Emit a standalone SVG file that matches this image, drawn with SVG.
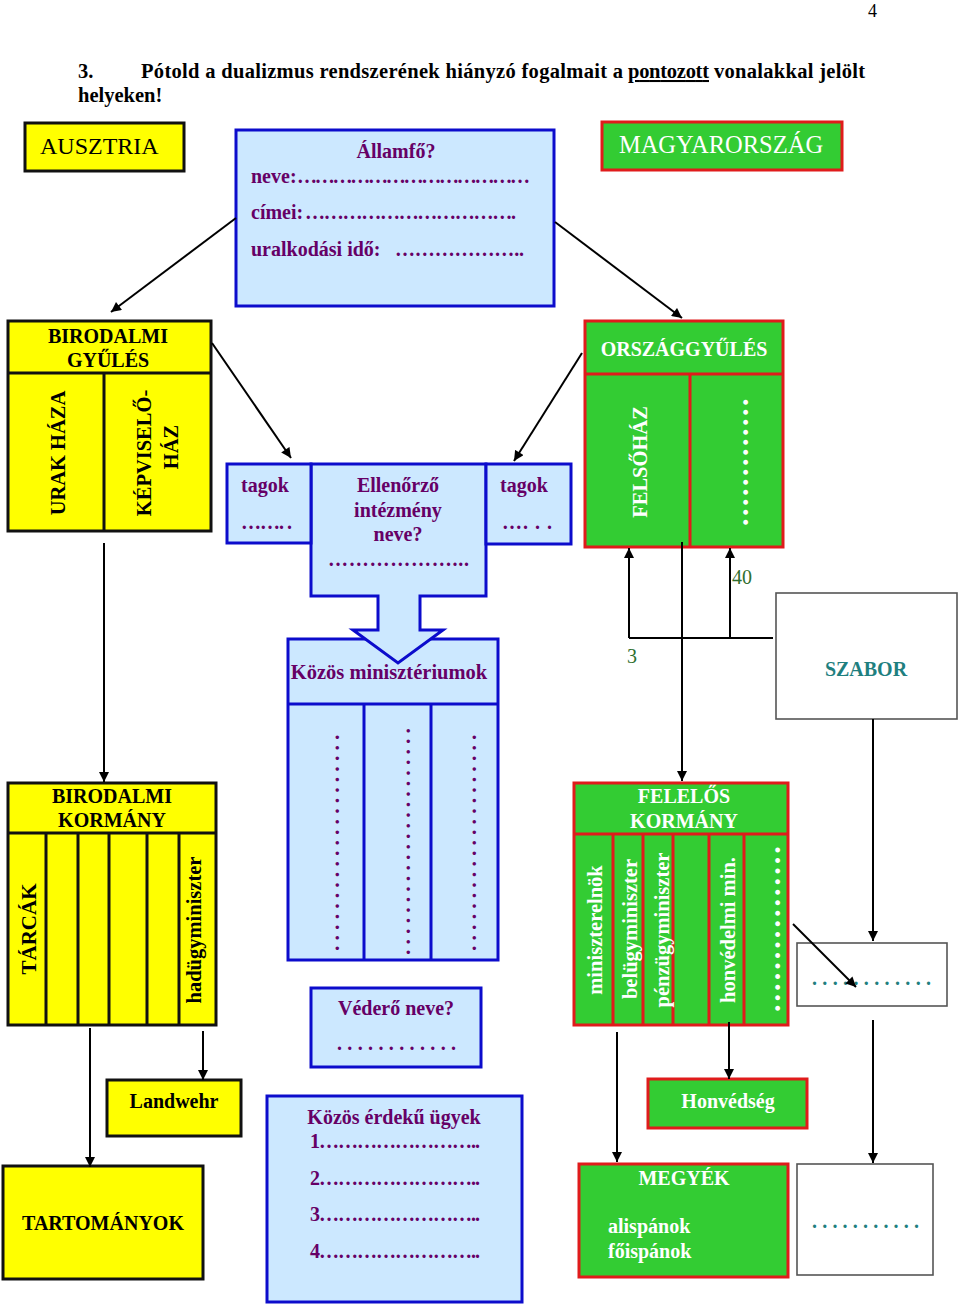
<svg xmlns="http://www.w3.org/2000/svg" width="960" height="1306" viewBox="0 0 960 1306">
<style>
.t{font-family:"Liberation Serif","Times New Roman",serif}
.b{font-weight:bold}
.p{fill:#660066}
.w{fill:#ffffff}
.k{fill:#000000}
.yel{fill:#ffff00;stroke:#111111;stroke-width:3}
.grn{fill:#33cc33;stroke:#e01b1b;stroke-width:3}
.blu{fill:#cce8ff;stroke:#0c0ccc;stroke-width:3}
.wht{fill:#ffffff;stroke:#555555;stroke-width:1.6}
.ly{stroke:#111111;stroke-width:3;fill:none}
.lg{stroke:#e01b1b;stroke-width:3;fill:none}
.lb{stroke:#0c0ccc;stroke-width:3;fill:none}
.c{stroke:#000000;stroke-width:2;fill:none}
</style>
<defs>
<marker id="ah" viewBox="0 0 10 10" refX="10" refY="5" markerWidth="11" markerHeight="10" markerUnits="userSpaceOnUse" orient="auto">
<path d="M0,0 L10,5 L0,10 z" fill="#000000"/>
</marker>
</defs>
<rect width="960" height="1306" fill="#ffffff"/>

<g id="header">
<text class="t" x="868" y="17" font-size="18">4</text>
<text class="t b" x="78" y="78" font-size="20.5">3.</text>
<text class="t b" x="141" y="78" font-size="20.5" textLength="482" lengthAdjust="spacing">Pótold a dualizmus rendszerének hiányzó fogalmait a</text>
<text class="t b" x="628" y="78" font-size="20.5" text-decoration="underline" textLength="81" lengthAdjust="spacing">pontozott</text>
<text class="t b" x="714" y="78" font-size="20.5" textLength="151" lengthAdjust="spacing">vonalakkal jelölt</text>
<text class="t b" x="78" y="102" font-size="20.5">helyeken!</text>
</g>

<g id="ausztria">
<rect class="yel" x="25" y="123" width="159" height="48"/>
<text class="t k" x="40" y="154" font-size="24">AUSZTRIA</text>
</g>

<g id="allamfo">
<rect class="blu" x="236" y="130" width="318" height="176"/>
<text class="t b p" x="396" y="158" font-size="20" text-anchor="middle">Államfő?</text>
<text class="t b p" x="251" y="183" font-size="20">neve:</text>
<text class="t b p" x="297" y="183" font-size="20" textLength="233" lengthAdjust="spacing">…………………………………</text>
<text class="t b p" x="251" y="219" font-size="20">címei:</text>
<text class="t b p" x="305" y="219" font-size="20" textLength="211" lengthAdjust="spacing">…………………………….</text>
<text class="t b p" x="251" y="256" font-size="20">uralkodási idő:</text>
<text class="t b p" x="395" y="256" font-size="20" textLength="129" lengthAdjust="spacing">………………..</text>
</g>

<g id="magyarorszag">
<rect class="grn" x="602" y="122" width="240" height="48"/>
<text class="t w" x="721" y="153" font-size="24.5" text-anchor="middle">MAGYARORSZÁG</text>
</g>

<g id="birodalmi-gyules">
<rect class="yel" x="8" y="321" width="203" height="210"/>
<line class="ly" x1="8" y1="373" x2="211" y2="373"/>
<line class="ly" x1="104" y1="373" x2="104" y2="531"/>
<text class="t b k" x="108" y="343" font-size="20" text-anchor="middle">BIRODALMI</text>
<text class="t b k" x="108" y="367" font-size="20" text-anchor="middle">GYŰLÉS</text>
<text class="t b k" transform="translate(65,453) rotate(-90)" font-size="20.5" text-anchor="middle">URAK HÁZA</text>
<text class="t b k" transform="translate(151,453) rotate(-90)" font-size="20.5" text-anchor="middle">KÉPVISELŐ-</text>
<text class="t b k" transform="translate(178,447) rotate(-90)" font-size="20.5" text-anchor="middle">HÁZ</text>
</g>

<g id="orszaggyules">
<rect class="grn" x="585" y="321" width="198" height="226"/>
<line class="lg" x1="585" y1="374" x2="783" y2="374"/>
<line class="lg" x1="690" y1="374" x2="690" y2="547"/>
<text class="t b w" x="684" y="356" font-size="20" text-anchor="middle">ORSZÁGGYŰLÉS</text>
<text class="t b w" transform="translate(647,462) rotate(-90)" font-size="20.5" text-anchor="middle">FELSŐHÁZ</text>
<text class="t b w" transform="translate(748,526) rotate(-90)" font-size="30" letter-spacing="2.5">.............</text>
</g>

<g id="kozos-miniszteriumok">
<rect class="blu" x="288" y="639" width="210" height="321"/>
<line class="lb" x1="288" y1="704" x2="498" y2="704"/>
<line class="lb" x1="364" y1="704" x2="364" y2="960"/>
<line class="lb" x1="431" y1="704" x2="431" y2="960"/>
<text class="t b p" x="389" y="679" font-size="20.5" text-anchor="middle">Közös minisztériumok</text>
<text class="t b p" transform="translate(339,951) rotate(-90)" font-size="22" letter-spacing="5.05">.....................</text>
<text class="t b p" transform="translate(410,955) rotate(-90)" font-size="22" letter-spacing="5.05">......................</text>
<text class="t b p" transform="translate(476,951) rotate(-90)" font-size="22" letter-spacing="5.05">.....................</text>
</g>

<g id="ellenorzo">
<polygon class="blu" points="311,464 486,464 486,596 420,596 420,630 443,630 398,663 353,630 378,630 378,596 311,596"/>
<text class="t b p" x="398" y="492" font-size="20" text-anchor="middle">Ellenőrző</text>
<text class="t b p" x="398" y="517" font-size="20" text-anchor="middle">intézmény</text>
<text class="t b p" x="398" y="541" font-size="20" text-anchor="middle">neve?</text>
<text class="t b p" x="328" y="566" font-size="20" textLength="141" lengthAdjust="spacing">………………...</text>
</g>

<g id="tagok-bal">
<rect class="blu" x="227" y="464" width="84" height="79"/>
<text class="t b p" x="241" y="492" font-size="20">tagok</text>
<text class="t b p" x="241" y="529" font-size="20" textLength="51" lengthAdjust="spacing">……. .</text>
</g>

<g id="tagok-jobb">
<rect class="blu" x="486" y="464" width="85" height="80"/>
<text class="t b p" x="500" y="492" font-size="20">tagok</text>
<text class="t b p" x="502" y="529" font-size="20" textLength="50" lengthAdjust="spacing">…. . .</text>
</g>

<g id="szabor">
<rect class="wht" x="776" y="593" width="181" height="126"/>
<text class="t b" x="866" y="676" font-size="20" fill="#1f7f7f" text-anchor="middle">SZABOR</text>
<text class="t" x="627" y="663" font-size="20" fill="#2f6f2f">3</text>
<text class="t" x="732" y="584" font-size="20" fill="#2f6f2f">40</text>
</g>

<g id="birodalmi-kormany">
<rect class="yel" x="8" y="783" width="208" height="242"/>
<line class="ly" x1="8" y1="833" x2="216" y2="833"/>
<line class="ly" x1="46" y1="833" x2="46" y2="1025"/>
<line class="ly" x1="78" y1="833" x2="78" y2="1025"/>
<line class="ly" x1="109" y1="833" x2="109" y2="1025"/>
<line class="ly" x1="147" y1="833" x2="147" y2="1025"/>
<line class="ly" x1="179" y1="833" x2="179" y2="1025"/>
<text class="t b k" x="112" y="803" font-size="20" text-anchor="middle">BIRODALMI</text>
<text class="t b k" x="112" y="827" font-size="20" text-anchor="middle">KORMÁNY</text>
<text class="t b k" transform="translate(36,929) rotate(-90)" font-size="21" text-anchor="middle">TÁRCÁK</text>
<text class="t b k" transform="translate(201,930) rotate(-90)" font-size="20.5" text-anchor="middle">hadügyminiszter</text>
</g>

<g id="vedero">
<rect class="blu" x="311" y="988" width="170" height="79"/>
<text class="t b p" x="396" y="1015" font-size="20" text-anchor="middle">Véderő neve?</text>
<text class="t b p" x="337" y="1050" font-size="20" textLength="119" lengthAdjust="spacing">. . . . . . . . . . . .</text>
</g>

<g id="felelos-kormany">
<rect class="grn" x="574" y="783" width="214" height="242"/>
<line class="lg" x1="574" y1="834" x2="788" y2="834"/>
<line class="lg" x1="613" y1="834" x2="613" y2="1025"/>
<line class="lg" x1="643" y1="834" x2="643" y2="1025"/>
<line class="lg" x1="673" y1="834" x2="673" y2="1025"/>
<line class="lg" x1="709" y1="834" x2="709" y2="1025"/>
<line class="lg" x1="744" y1="834" x2="744" y2="1025"/>
<text class="t b w" x="684" y="803" font-size="20" text-anchor="middle">FELELŐS</text>
<text class="t b w" x="684" y="828" font-size="20" text-anchor="middle">KORMÁNY</text>
<text class="t b w" transform="translate(602,930) rotate(-90)" font-size="20.5" text-anchor="middle">miniszterelnök</text>
<text class="t b w" transform="translate(637,929) rotate(-90)" font-size="20.5" text-anchor="middle">belügyminiszter</text>
<text class="t b w" transform="translate(669,930) rotate(-90)" font-size="20.5" text-anchor="middle">pénzügyminiszter</text>
<text class="t b w" transform="translate(735,930) rotate(-90)" font-size="20.5" text-anchor="middle">honvédelmi min.</text>
<text class="t b w" transform="translate(780,1012) rotate(-90)" font-size="30" letter-spacing="3.05">................</text>
</g>

<g id="kis-doboz">
<rect class="wht" x="797" y="943" width="150" height="63"/>
<text class="t b" x="812" y="985" font-size="20" fill="#1f7f7f" textLength="119" lengthAdjust="spacing">. . . . . . . . . . . .</text>
</g>

<g id="landwehr">
<rect class="yel" x="107" y="1080" width="134" height="56"/>
<text class="t b k" x="174" y="1108" font-size="20" text-anchor="middle">Landwehr</text>
</g>

<g id="tartomanyok">
<rect class="yel" x="3" y="1166" width="200" height="113"/>
<text class="t b k" x="103" y="1230" font-size="20" text-anchor="middle">TARTOMÁNYOK</text>
</g>

<g id="kozos-ugyek">
<rect class="blu" x="267" y="1096" width="255" height="206"/>
<text class="t b p" x="394" y="1124" font-size="20" text-anchor="middle">Közös érdekű ügyek</text>
<text class="t b p" x="310" y="1148" font-size="20" textLength="170" lengthAdjust="spacing">1……………………..</text>
<text class="t b p" x="310" y="1185" font-size="20" textLength="170" lengthAdjust="spacing">2……………………..</text>
<text class="t b p" x="310" y="1221" font-size="20" textLength="170" lengthAdjust="spacing">3……………………..</text>
<text class="t b p" x="310" y="1258" font-size="20" textLength="170" lengthAdjust="spacing">4……………………..</text>
</g>

<g id="honvedseg">
<rect class="grn" x="648" y="1079" width="159" height="49"/>
<text class="t b w" x="728" y="1108" font-size="20" text-anchor="middle">Honvédség</text>
</g>

<g id="megyek">
<rect class="grn" x="579" y="1164" width="209" height="113"/>
<text class="t b w" x="684" y="1185" font-size="20" text-anchor="middle">MEGYÉK</text>
<text class="t b w" x="608" y="1233" font-size="20">alispánok</text>
<text class="t b w" x="608" y="1258" font-size="20">főispánok</text>
</g>

<g id="also-doboz">
<rect class="wht" x="797" y="1164" width="136" height="111"/>
<text class="t b" x="812" y="1228" font-size="20" fill="#1f7f7f" textLength="107" lengthAdjust="spacing">. . . . . . . . . . .</text>
</g>

<g id="connectors">
<line class="c" x1="236" y1="218" x2="111" y2="312" marker-end="url(#ah)"/>
<line class="c" x1="555" y1="222" x2="682" y2="318" marker-end="url(#ah)"/>
<line class="c" x1="212" y1="343" x2="291" y2="458" marker-end="url(#ah)"/>
<line class="c" x1="582" y1="353" x2="514" y2="461" marker-end="url(#ah)"/>
<line class="c" x1="104" y1="543" x2="104" y2="782" marker-end="url(#ah)"/>
<line class="c" x1="682" y1="542" x2="682" y2="781" marker-end="url(#ah)"/>
<polyline class="c" points="773,638 629,638"/>
<line class="c" x1="629" y1="638" x2="629" y2="548" marker-end="url(#ah)"/>
<line class="c" x1="730" y1="638" x2="730" y2="548" marker-end="url(#ah)"/>
<line class="c" x1="873" y1="719" x2="873" y2="941" marker-end="url(#ah)"/>
<line class="c" x1="793" y1="924" x2="856" y2="987" marker-end="url(#ah)"/>
<line class="c" x1="873" y1="1020" x2="873" y2="1163" marker-end="url(#ah)"/>
<line class="c" x1="617" y1="1032" x2="617" y2="1162" marker-end="url(#ah)"/>
<line class="c" x1="729" y1="1022" x2="729" y2="1079" marker-end="url(#ah)"/>
<line class="c" x1="90" y1="1028" x2="90" y2="1167" marker-end="url(#ah)"/>
<line class="c" x1="203" y1="1031" x2="203" y2="1080" marker-end="url(#ah)"/>
</g>
</svg>
